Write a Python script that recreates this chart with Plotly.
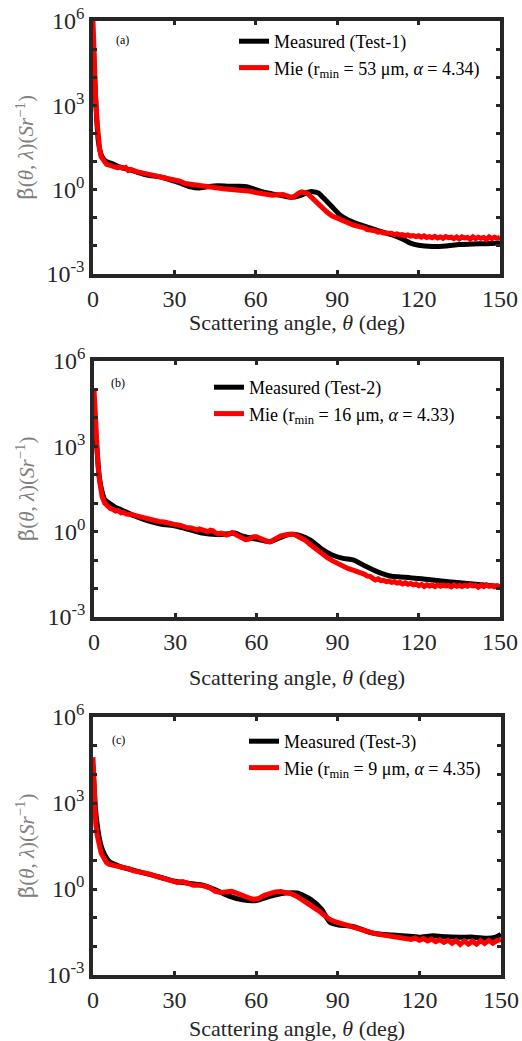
import plotly.graph_objects as go

# ---------------------------------------------------------------------------
# Angular scattering coefficient, log10 of beta~(theta, lambda) in Sr^-1
# ---------------------------------------------------------------------------

# (a) Test-1
theta_meas_a = [0, 0.5, 1, 1.5, 2, 3, 4, 5, 7, 10, 13, 16, 20, 25, 30, 33, 36, 39, 42, 46,
                50, 54, 57, 60, 63, 66, 70, 73, 76, 79, 81, 83, 85, 88, 91, 94, 97, 100,
                105, 110, 114, 117, 120, 125, 130, 135, 140, 145, 150]
logb_meas_a = [5.5, 4.2, 3.2, 2.3, 1.7, 1.25, 1.08, 1.0, 0.93, 0.8, 0.72, 0.63, 0.52, 0.45,
               0.3, 0.2, 0.1, 0.06, 0.1, 0.14, 0.12, 0.12, 0.1, 0.0, -0.09, -0.15, -0.22,
               -0.27, -0.22, -0.1, -0.07, -0.12, -0.3, -0.6, -0.9, -1.08, -1.2, -1.3, -1.46,
               -1.6, -1.75, -1.9, -1.98, -2.02, -2.0, -1.95, -1.93, -1.92, -1.9]

theta_mie_a = [0, 0.3, 0.7, 1, 1.5, 2, 2.5, 3, 4, 5, 6, 7, 8, 9, 10, 11, 12, 13, 14, 16, 18,
               20, 22, 24, 26, 28, 30, 32, 34, 36, 38, 40, 42, 44, 46, 48, 50, 52, 54, 56,
               58, 60, 62, 64, 66, 68, 70, 72, 73, 74, 75, 76, 77, 78, 79, 80, 82, 84, 86,
               88, 90, 92, 94, 96, 97, 98, 99, 100, 101, 102, 103, 104, 105, 106, 107, 108,
               109, 110, 111, 112, 113, 114, 115, 116, 117, 118, 119, 120, 121, 122, 123,
               124, 125, 126, 127, 128, 129, 130, 131, 132, 133, 134, 135, 136, 137, 138,
               139, 140, 141, 142, 143, 144, 145, 146, 147, 148, 149, 150]
logb_mie_a = [6.0, 4.8, 3.7, 3.2, 2.4, 1.76, 1.4, 1.17, 0.99, 0.9, 0.87, 0.82, 0.81, 0.78,
              0.8, 0.76, 0.79, 0.68, 0.72, 0.64, 0.6, 0.55, 0.52, 0.47, 0.44, 0.39, 0.34,
              0.3, 0.22, 0.2, 0.17, 0.16, 0.12, 0.1, 0.06, 0.03, 0.02, -0.02, 0.0, -0.04,
              -0.06, -0.1, -0.13, -0.15, -0.2, -0.18, -0.17, -0.24, -0.28, -0.25, -0.17,
              -0.11, -0.08, -0.09, -0.14, -0.22, -0.42, -0.6, -0.78, -0.93, -1.02, -1.12,
              -1.18, -1.26, -1.29, -1.31, -1.36, -1.36, -1.42, -1.43, -1.47, -1.46, -1.51,
              -1.5, -1.54, -1.53, -1.56, -1.55, -1.6, -1.57, -1.61, -1.6, -1.64, -1.61,
              -1.65, -1.63, -1.67, -1.64, -1.69, -1.64, -1.7, -1.67, -1.71, -1.66, -1.72,
              -1.68, -1.73, -1.67, -1.71, -1.69, -1.74, -1.68, -1.75, -1.68, -1.72, -1.7,
              -1.76, -1.68, -1.74, -1.69, -1.73, -1.7, -1.77, -1.68, -1.74, -1.69, -1.73,
              -1.7]

# (b) Test-2
theta_meas_b = [0, 0.5, 1, 1.5, 2, 3, 4, 6, 8, 10, 15, 20, 25, 30, 35, 40, 45, 50, 52, 55,
                60, 65, 68, 72, 76, 80, 84, 88, 92, 96, 100, 105, 110, 115, 120, 125, 130,
                140, 150]
logb_meas_b = [4.0, 3.5, 3.0, 2.4, 1.9, 1.4, 1.12, 0.98, 0.85, 0.77, 0.55, 0.38, 0.26, 0.2,
               0.08, -0.05, -0.1, -0.07, -0.05, -0.16, -0.26, -0.35, -0.24, -0.1, -0.13,
               -0.3, -0.6, -0.82, -0.94, -1.0, -1.2, -1.42, -1.57, -1.6, -1.65, -1.7,
               -1.75, -1.84, -1.93]

theta_mie_b = [0, 0.3, 0.6, 1, 1.5, 2, 2.5, 3, 4, 5, 6, 7, 8, 9, 10, 11, 12, 14, 16, 18,
               20, 22, 24, 26, 28, 30, 32, 34, 36, 38, 39, 40, 41, 42, 43, 44, 45, 46, 47,
               48, 49, 50, 51, 52, 53, 54, 55, 56, 57, 58, 59, 60, 61, 62, 63, 64, 65, 66,
               67, 68, 69, 70, 71, 72, 74, 76, 78, 80, 82, 84, 86, 88, 90, 92, 94, 96, 98,
               100, 101, 102, 103, 104, 105, 106, 107, 108, 109, 110, 111, 112, 113, 114,
               115, 116, 117, 118, 119, 120, 121, 122, 123, 124, 125, 126, 127, 128, 129,
               130, 131, 132, 133, 134, 135, 136, 137, 138, 139, 140, 141, 142, 143, 144,
               145, 146, 147, 148, 149, 150]
logb_mie_b = [5.0, 4.3, 3.6, 2.87, 2.3, 1.82, 1.45, 1.23, 1.0, 0.88, 0.82, 0.78, 0.72, 0.74,
              0.66, 0.68, 0.62, 0.6, 0.55, 0.5, 0.44, 0.42, 0.36, 0.34, 0.28, 0.25, 0.22,
              0.15, 0.13, 0.06, 0.1, 0.08, 0.02, 0.0, 0.05, 0.03, -0.05, -0.08, -0.05,
              -0.1, -0.12, -0.08, -0.03, -0.08, -0.14, -0.19, -0.23, -0.28, -0.27, -0.2,
              -0.18, -0.18, -0.23, -0.26, -0.3, -0.34, -0.36, -0.32, -0.26, -0.2, -0.15,
              -0.12, -0.1, -0.09, -0.1, -0.18, -0.3, -0.46, -0.62, -0.76, -0.9, -1.02,
              -1.12, -1.22, -1.3, -1.36, -1.42, -1.5, -1.56, -1.57, -1.64, -1.7, -1.66,
              -1.72, -1.71, -1.76, -1.74, -1.78, -1.76, -1.81, -1.78, -1.84, -1.8, -1.85,
              -1.82, -1.87, -1.84, -1.9, -1.86, -1.93, -1.87, -1.91, -1.88, -1.93, -1.87,
              -1.92, -1.88, -1.91, -1.89, -1.94, -1.87, -1.92, -1.89, -1.93, -1.88, -1.92,
              -1.87, -1.91, -1.89, -1.95, -1.88, -1.93, -1.87, -1.92, -1.89, -1.94, -1.9,
              -1.93]

# (c) Test-3
theta_meas_c = [0, 0.5, 1, 2, 3, 4, 6, 8, 10, 15, 20, 25, 30, 35, 40, 45, 50, 55, 60, 65,
                70, 75, 80, 84, 87, 90, 95, 98, 102, 106, 110, 115, 120, 125, 130, 135, 140,
                145, 148, 150]
logb_meas_c = [4.3, 3.4, 2.7, 1.95, 1.5, 1.25, 0.96, 0.86, 0.78, 0.65, 0.53, 0.4, 0.27, 0.2,
               0.14, -0.03, -0.25, -0.38, -0.4, -0.26, -0.15, -0.14, -0.36, -0.7, -1.15,
               -1.25, -1.3, -1.38, -1.52, -1.58, -1.6, -1.64, -1.68, -1.63, -1.67, -1.68,
               -1.68, -1.72, -1.68, -1.58]

theta_mie_c = [0, 0.5, 1, 1.5, 2, 3, 4, 5, 6, 7, 8, 9, 10, 11, 12, 13, 15, 17, 19, 21, 23,
               25, 27, 29, 31, 33, 35, 37, 39, 41, 43, 45, 47, 49, 51, 53, 55, 57, 59, 61,
               63, 65, 67, 69, 71, 73, 75, 77, 79, 81, 83, 85, 87, 89, 91, 93, 95, 97, 99,
               101, 103, 105, 107, 109, 111, 113, 115, 117, 118.5, 120, 121.5, 123, 124.5,
               126, 127.5, 129, 130.5, 132, 133.5, 135, 136.5, 138, 139.5, 141, 142.5, 144,
               145.5, 147, 148.5, 150]
logb_mie_c = [4.6, 3.23, 2.3, 1.9, 1.6, 1.25, 1.08, 0.92, 0.86, 0.84, 0.8, 0.8, 0.75, 0.76,
              0.71, 0.71, 0.63, 0.6, 0.53, 0.52, 0.45, 0.39, 0.36, 0.29, 0.23, 0.26, 0.21,
              0.13, 0.13, 0.11, 0.04, -0.08, -0.12, -0.08, -0.08, -0.15, -0.24, -0.3, -0.36,
              -0.33, -0.22, -0.15, -0.1, -0.09, -0.12, -0.17, -0.26, -0.38, -0.5, -0.62,
              -0.76, -0.92, -1.06, -1.14, -1.2, -1.28, -1.33, -1.39, -1.44, -1.5, -1.54,
              -1.58, -1.61, -1.64, -1.66, -1.7, -1.72, -1.76, -1.71, -1.79, -1.73, -1.81,
              -1.75, -1.84, -1.77, -1.86, -1.79, -1.89, -1.8, -1.93, -1.81, -1.92, -1.82,
              -1.92, -1.8, -1.9, -1.79, -1.89, -1.8, -1.77]

panel_tags = ["(a)", "(b)", "(c)"]
measured_names = ["Measured (Test-1)", "Measured (Test-2)", "Measured (Test-3)"]
mie_names = [
    "Mie (r<sub>min</sub> = 53 μm, <i>α</i> = 4.34)",
    "Mie (r<sub>min</sub> = 16 μm, <i>α</i> = 4.33)",
    "Mie (r<sub>min</sub> = 9 μm, <i>α</i> = 4.35)",
]

x_ticks = [0, 30, 60, 90, 120, 150]
y_decades = list(range(-3, 7))
y_labelled = [-3, 0, 3, 6]

# ---------------------------------------------------------------------------
W, H = 522, 1041
FONT = "Liberation Serif"
FRAME = "#262626"

# pixel boxes of the three panels: (left, right, top, bottom)
boxes = [(93, 500, 21, 274), (94, 500, 361, 617), (93, 501, 717, 975)]
legend_pos = [(234, 23), (209, 369), (244, 723)]
tag_pos = [(122, 40), (118, 383), (118, 740)]
xtitle_y = [323, 677, 1028]

series = [
    (theta_meas_a, logb_meas_a, theta_mie_a, logb_mie_a),
    (theta_meas_b, logb_meas_b, theta_mie_b, logb_mie_b),
    (theta_meas_c, logb_meas_c, theta_mie_c, logb_mie_c),
]

fig = go.Figure()
layout = dict(
    width=W, height=H,
    margin=dict(l=0, r=0, t=0, b=0, autoexpand=False),
    paper_bgcolor="white", plot_bgcolor="white",
    font=dict(family=FONT, color=FRAME),
    annotations=[],
)


def px(x):
    return x / W


def py(y):
    return 1 - y / H


ylabel = ('<span style="font-family:DejaVu Serif">β̃</span>(<i>θ</i>, <i>λ</i>)'
          '(<i>Sr</i><sup>−1</sup>)')

for i, (tm, bm, tt, bt) in enumerate(series):
    k = "" if i == 0 else str(i + 1)
    xa, ya = "x" + k, "y" + k
    leg = "legend" + k
    fig.add_trace(go.Scatter(
        x=tm, y=[10 ** v for v in bm], mode="lines", name=measured_names[i],
        line=dict(color="black", width=5, shape="spline", smoothing=0.6),
        xaxis=xa, yaxis=ya, legend=leg,
    ))
    fig.add_trace(go.Scatter(
        x=tt, y=[10 ** v for v in bt], mode="lines", name=mie_names[i],
        line=dict(color="#ff0000", width=5),
        xaxis=xa, yaxis=ya, legend=leg,
    ))

    l, r, t, b = boxes[i]
    layout["xaxis" + k] = dict(
        domain=[px(l), px(r)], anchor=ya, range=[0, 150], automargin=False,
        tickvals=x_ticks, ticktext=[str(v) for v in x_ticks],
        ticks="inside", ticklen=4, tickwidth=2.5, tickcolor=FRAME,
        showline=True, linewidth=3.5, linecolor=FRAME, mirror="allticks",
        showgrid=False, zeroline=False,
        tickfont=dict(family=FONT, size=24, color=FRAME),
    )
    layout["yaxis" + k] = dict(
        domain=[py(b), py(t)], anchor=xa, type="log", range=[-3, 6], automargin=False,
        tickvals=[10 ** d for d in y_decades],
        ticktext=[("10<sup>%d</sup>" % d) if d in y_labelled else "" for d in y_decades],
        ticks="inside", ticklen=4, tickwidth=2.5, tickcolor=FRAME,
        showline=True, linewidth=3.5, linecolor=FRAME, mirror="allticks",
        showgrid=False, zeroline=False,
        tickfont=dict(family=FONT, size=24, color=FRAME),
    )
    lx, ly = legend_pos[i]
    layout[leg] = dict(
        x=px(lx), y=py(ly), xanchor="left", yanchor="top",
        bgcolor="rgba(0,0,0,0)", borderwidth=0,
        font=dict(family=FONT, size=18, color="black"),
        itemwidth=30, tracegroupgap=0,
    )
    tx, ty = tag_pos[i]
    layout["annotations"].append(dict(
        text=panel_tags[i], x=px(tx), y=py(ty), xref="paper", yref="paper",
        xanchor="center", yanchor="middle", showarrow=False,
        font=dict(family=FONT, size=12, color="black"),
    ))
    layout["annotations"].append(dict(
        text="Scattering angle, <i>θ</i> (deg)", x=px((l + r) / 2), y=py(xtitle_y[i]),
        xref="paper", yref="paper", xanchor="center", yanchor="middle", showarrow=False,
        font=dict(family=FONT, size=22, color=FRAME),
    ))
    layout["annotations"].append(dict(
        text=ylabel, x=px(25), y=py((t + b) / 2), xref="paper", yref="paper",
        xanchor="center", yanchor="middle", showarrow=False,
        textangle=-90, font=dict(family=FONT, size=21, color="#808080"),
    ))

fig.update_layout(**layout)
fig.write_html("out.html")
